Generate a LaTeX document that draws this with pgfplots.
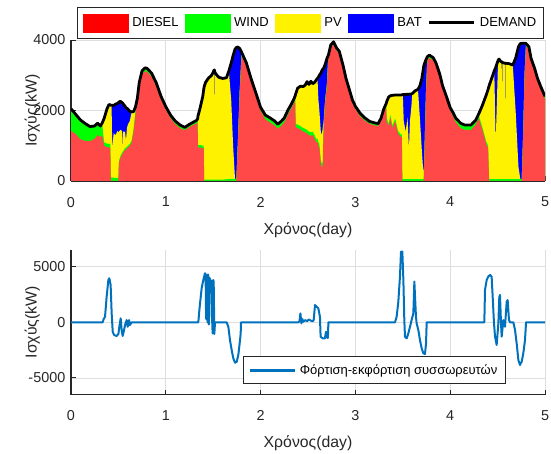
\documentclass[border=0pt]{standalone}
\usepackage{fontspec}
\setmainfont{Liberation Sans}
\usepackage{pgfplots}
\usepackage{pgfplotstable}
\pgfplotsset{compat=1.18}

\definecolor{axgray}{RGB}{38,38,38}
\definecolor{gridgray}{RGB}{222,222,222}
\definecolor{dslred}{RGB}{255,72,72}
\definecolor{mblue}{RGB}{0,114,189}

% cumulative tops of the stacked supply: diesel, +wind, +pv, demand (kW)
\pgfplotstableread{
t dsl dw dwp dem
0.000 1420 2050 2050 2050
0.050 1330 1890 1890 1890
0.100 1180 1730 1730 1730
0.150 1140 1630 1630 1630
0.200 1130 1545 1545 1545
0.250 1200 1560 1560 1560
0.280 1300 1640 1640 1640
0.310 1250 1560 1560 1560
0.330 1280 1580 1650 1650
0.350 1000 1100 1780 1780
0.380 960 1060 2050 2050
0.400 950 1050 2170 2170
0.415 950 1050 2160 2160
0.420 0 100 2150 2150
0.428 0 100 2150 2150
0.435 0 100 950 2150
0.450 0 90 1350 2140
0.470 0 90 1300 2180
0.490 0 90 1420 2200
0.500 0 90 1380 2220
0.505 500 560 1400 2240
0.520 650 700 1450 2260
0.540 760 810 1420 2220
0.545 770 820 850 2210
0.550 800 850 1400 2190
0.570 880 930 1400 2120
0.580 900 950 1150 2080
0.590 920 970 1500 2060
0.600 950 1000 1600 2040
0.620 1000 1050 1700 1980
0.640 1100 1150 1960 1960
0.660 1400 1480 1970 1970
0.680 1900 1990 2100 2100
0.700 2250 2350 2350 2350
0.720 2700 2800 2800 2800
0.750 3030 3130 3130 3130
0.780 3110 3210 3210 3210
0.800 3100 3200 3200 3200
0.850 2960 3060 3060 3060
0.900 2680 2780 2780 2780
0.950 2300 2400 2400 2400
1.000 2020 2110 2110 2110
1.050 1780 1870 1870 1870
1.100 1610 1700 1700 1700
1.150 1500 1590 1590 1590
1.200 1440 1520 1520 1520
1.250 1530 1610 1610 1610
1.290 1590 1670 1670 1670
1.320 1630 1710 1710 1710
1.335 1640 1720 1760 1760
1.340 950 1020 1850 1850
1.360 950 1020 2050 2050
1.390 930 1000 2400 2400
1.400 930 1000 2600 2600
1.405 0 40 2680 2680
1.420 0 40 2800 2800
1.450 0 40 2920 2920
1.480 0 40 2990 2990
1.500 0 40 3080 3080
1.508 0 40 3130 3140
1.512 0 40 2000 3150
1.516 0 40 3080 3100
1.530 0 40 3030 3030
1.560 0 40 2940 2940
1.600 0 40 2910 2910
1.640 0 50 2930 2930
1.665 0 50 3120 3120
1.690 0 60 2300 3350
1.710 0 60 1000 3560
1.730 0 60 60 3740
1.745 0 60 60 3790
1.760 1000 1060 1060 3800
1.780 2500 2570 2570 3760
1.800 3550 3650 3650 3650
1.850 3260 3350 3350 3350
1.900 2810 2900 2900 2900
1.950 2400 2500 2500 2500
2.000 1990 2090 2090 2090
2.050 1750 1870 1870 1870
2.100 1660 1790 1790 1790
2.150 1570 1700 1700 1700
2.180 1480 1610 1610 1610
2.220 1570 1700 1700 1700
2.250 1660 1790 1790 1790
2.290 1890 2020 2020 2020
2.320 2040 2160 2160 2160
2.355 2230 2350 2350 2350
2.365 2280 2400 2420 2420
2.370 1520 1620 2470 2470
2.390 1500 1600 2630 2630
2.420 1460 1560 2690 2690
2.450 1400 1500 2680 2680
2.470 1380 1480 2720 2720
2.490 1350 1450 2820 2820
2.510 1300 1400 2740 2740
2.530 1280 1380 2830 2830
2.550 1300 1400 2760 2760
2.570 1200 1300 2800 2800
2.585 1100 1200 2860 2860
2.600 1100 1200 2910 2910
2.610 1000 1100 2300 2950
2.620 950 1050 2000 3000
2.635 500 600 1400 3060
2.645 400 500 1300 3120
2.655 420 520 1500 3170
2.665 1500 1560 1700 3200
2.680 2200 2260 2260 3300
2.700 2700 2760 2760 3480
2.715 3500 3570 3570 3570
2.740 3780 3860 3860 3860
2.770 3870 3950 3950 3950
2.800 3700 3780 3780 3780
2.830 3600 3680 3680 3680
2.870 3200 3280 3280 3280
2.900 2840 2920 2920 2920
2.940 2480 2560 2560 2560
2.970 2200 2290 2290 2290
3.000 2030 2120 2120 2120
3.050 1830 1920 1920 1920
3.100 1710 1790 1790 1790
3.150 1620 1690 1690 1690
3.200 1580 1650 1650 1650
3.240 1560 1630 1630 1630
3.270 1700 1780 1780 1780
3.300 1950 2050 2050 2050
3.325 2080 2180 2200 2200
3.330 1700 1780 2250 2250
3.350 1550 1620 2380 2380
3.370 1800 1870 2420 2420
3.390 1500 1570 2430 2430
3.420 1700 1770 2440 2440
3.450 1350 1420 2440 2440
3.480 1250 1320 2440 2440
3.490 1250 1320 2445 2445
3.495 0 50 2450 2450
3.500 0 50 2450 2450
3.510 0 50 1700 2450
3.530 0 50 1400 2455
3.550 0 50 1800 2460
3.565 0 50 900 2460
3.575 0 50 1700 2465
3.590 0 50 2100 2470
3.600 0 50 2480 2480
3.630 0 50 2560 2560
3.660 0 50 2600 2600
3.680 0 50 1800 2700
3.700 0 50 900 2900
3.715 0 50 300 3150
3.720 0 50 300 3250
3.725 400 470 470 3300
3.745 2500 2560 2560 3450
3.760 3450 3530 3530 3530
3.780 3490 3570 3570 3570
3.820 3420 3500 3500 3500
3.850 3270 3350 3350 3350
3.890 2950 3030 3030 3030
3.920 2620 2700 2700 2700
3.960 2320 2400 2400 2400
4.000 2000 2080 2080 2080
4.030 1830 1940 1940 1940
4.060 1660 1780 1780 1780
4.110 1500 1640 1640 1640
4.150 1450 1590 1590 1590
4.220 1450 1590 1590 1590
4.270 1600 1730 1730 1730
4.300 1780 1900 1900 1900
4.310 1700 1780 1960 1960
4.340 1450 1520 2150 2150
4.380 1050 1120 2440 2440
4.400 930 1000 2600 2600
4.410 0 50 2700 2700
4.450 0 50 3010 3010
4.465 0 50 3130 3130
4.480 0 50 1110 3220
4.505 0 50 3420 3420
4.515 0 50 3460 3460
4.530 0 50 3400 3400
4.543 0 50 3380 3380
4.547 0 50 2300 3370
4.551 0 50 3360 3360
4.578 0 50 3340 3340
4.582 0 50 1830 3340
4.586 0 50 3340 3340
4.620 0 50 3330 3330
4.660 0 50 3290 3290
4.690 0 50 2000 3480
4.720 0 50 400 3810
4.740 0 50 50 3900
4.755 0 50 50 3905
4.770 1300 1350 1350 3910
4.785 3000 3060 3060 3910
4.800 3820 3900 3900 3900
4.830 3730 3810 3810 3810
4.853 3400 3480 3480 3480
4.890 3120 3200 3200 3200
4.920 2840 2920 2920 2920
4.955 2600 2680 2680 2680
5.000 2320 2400 2400 2400
}\power

% battery power: positive = charging, negative = discharging (kW)
\pgfplotstableread{
t bat
0.000 0
0.334 0
0.345 300
0.359 500
0.376 2300
0.394 3800
0.404 3960
0.418 3360
0.429 800
0.440 -840
0.454 -1140
0.482 -1230
0.500 -1050
0.510 -400
0.524 360
0.534 -690
0.545 -1230
0.559 -700
0.570 -250
0.587 200
0.598 -400
0.612 200
0.622 -250
0.640 0
1.343 0
1.354 1100
1.378 3060
1.396 3810
1.413 4410
1.420 4300
1.425 300
1.430 4200
1.435 4000
1.440 0
1.445 4300
1.450 4100
1.455 -200
1.460 4000
1.470 3800
1.480 3700
1.487 600
1.494 -1000
1.500 3800
1.505 3700
1.512 -1050
1.519 0
1.642 0
1.660 -400
1.677 -1600
1.695 -2500
1.712 -3240
1.730 -3630
1.748 -3550
1.765 -2940
1.783 -1600
1.790 -1000
1.793 0
2.400 0
2.410 100
2.420 800
2.430 -100
2.440 300
2.450 50
2.470 200
2.490 100
2.510 250
2.530 150
2.550 100
2.560 200
2.574 1550
2.591 1400
2.609 1250
2.626 500
2.633 -1300
2.655 -1440
2.679 -1440
2.690 -850
2.697 -1350
2.710 -1400
2.715 0
3.418 0
3.435 500
3.453 1860
3.470 4110
3.481 6360
3.495 6360
3.506 3800
3.516 200
3.523 -1290
3.541 -1440
3.558 -1000
3.576 -400
3.593 200
3.611 800
3.622 3660
3.629 2300
3.639 500
3.646 -100
3.664 -700
3.681 -1600
3.699 -2340
3.717 -2790
3.734 -2850
3.745 -1900
3.752 0
4.360 0
4.367 2900
4.385 3810
4.402 4110
4.420 4260
4.437 4110
4.448 2300
4.462 -100
4.473 -1290
4.490 -2040
4.508 -100
4.518 2300
4.525 2460
4.536 -100
4.543 -1290
4.560 200
4.578 -400
4.596 1860
4.606 2000
4.620 200
4.631 0
4.666 0
4.684 -700
4.701 -1890
4.719 -3390
4.736 -3840
4.754 -3540
4.771 -2790
4.789 -1600
4.800 0
5.000 0
}\battery

\pgfplotsset{
  matlabaxis/.style={
    scale only axis, width=474pt,
    axis lines=left, axis line style={axgray, line width=1.1pt, -},
    tick align=inside, major tick length=4.5pt,
    tick style={axgray, line width=1pt},
    xmin=0, xmax=5, xtick={0,1,2,3,4,5}, xticklabels={0,1,2,3,4,5},
    grid=major, grid style={gridgray, line width=0.8pt},
    scaled ticks=false,
    ticklabel style={font=\fontsize{14.4}{16}\selectfont, text=axgray},
    xticklabel style={inner sep=0pt, anchor=north, yshift=-15.8pt},
    yticklabel style={inner sep=0pt, anchor=east, xshift=-5.5pt},
    label style={font=\fontsize{15.8}{18}\selectfont, text=axgray, inner sep=0pt},
    xlabel={Χρόνος(day)},
    xlabel style={at={(axis description cs:0.5,0)}, anchor=north, yshift=-41pt},
    ylabel={Ισχύς(kW)},
    ylabel style={at={(axis description cs:-0.0654,0.5)}, anchor=south},
    legend style={font=\fontsize{13}{15}\selectfont, draw=axgray,
      line width=0.6pt, fill=white, text=black},
  },
}

\begin{document}
\begin{tikzpicture}
\path[use as bounding box] (0pt,0pt) rectangle (551pt,-454pt);

% upper panel: power mix
\begin{axis}[matlabaxis,
  at={(71pt,-181pt)}, anchor=south west, height=141pt,
  ymin=0, ymax=4000, ytick={0,2000,4000}, yticklabels={0,2000,4000},
  legend columns=5,
  legend style={at={(axis description cs:0.5,1)}, anchor=south,
    xshift=2.5pt, yshift=1.5pt, inner xsep=5pt, inner ysep=6pt,
    /tikz/every odd column/.append style={column sep=2pt},
    /tikz/every even column/.append style={column sep=4pt}},
]
\addlegendimage{legend image code/.code={\fill[red] (0pt,-9pt) rectangle (45pt,9pt);}}
\addlegendentry{DIESEL}
\addlegendimage{legend image code/.code={\fill[green] (0pt,-9pt) rectangle (45pt,9pt);}}
\addlegendentry{WIND}
\addlegendimage{legend image code/.code={\fill[yellow] (0pt,-9pt) rectangle (45pt,9pt);}}
\addlegendentry{PV}
\addlegendimage{legend image code/.code={\fill[blue] (0pt,-9pt) rectangle (45pt,9pt);}}
\addlegendentry{BAT}
\addlegendimage{legend image code/.code={\draw[black, line width=3.2pt] (0pt,0pt) -- (45pt,0pt);}}
\addlegendentry{DEMAND}

\addplot[forget plot, draw=none, fill=blue] table[x=t, y=dem] {\power} \closedcycle;
\addplot[forget plot, draw=none, fill=yellow] table[x=t, y=dwp] {\power} \closedcycle;
\addplot[forget plot, draw=none, fill=green] table[x=t, y=dw] {\power} \closedcycle;
\addplot[forget plot, draw=none, fill=dslred] table[x=t, y=dsl] {\power} \closedcycle;
\addplot[forget plot, black, line width=2.8pt, line join=round] table[x=t, y=dem] {\power};
\end{axis}

% lower panel: battery charge / discharge
\begin{axis}[matlabaxis,
  at={(71pt,-394.6pt)}, anchor=south west, height=144.6pt,
  ymin=-6500, ymax=6500, ytick={-5000,0,5000}, yticklabels={-5000,0,5000},
  legend style={at={(axis description cs:0.917,0.073)}, anchor=south east,
    inner xsep=6pt, inner ysep=6pt,
    /tikz/every odd column/.append style={column sep=1pt}},
]
\addplot[mblue, line width=2pt, line join=round,
  legend image code/.code={\draw[mblue, line width=3pt] (0pt,0pt) -- (45pt,0pt);}]
  table[x=t, y=bat] {\battery};
\addlegendentry{Φόρτιση-εκφόρτιση συσσωρευτών}
\end{axis}
\end{tikzpicture}
\end{document}
